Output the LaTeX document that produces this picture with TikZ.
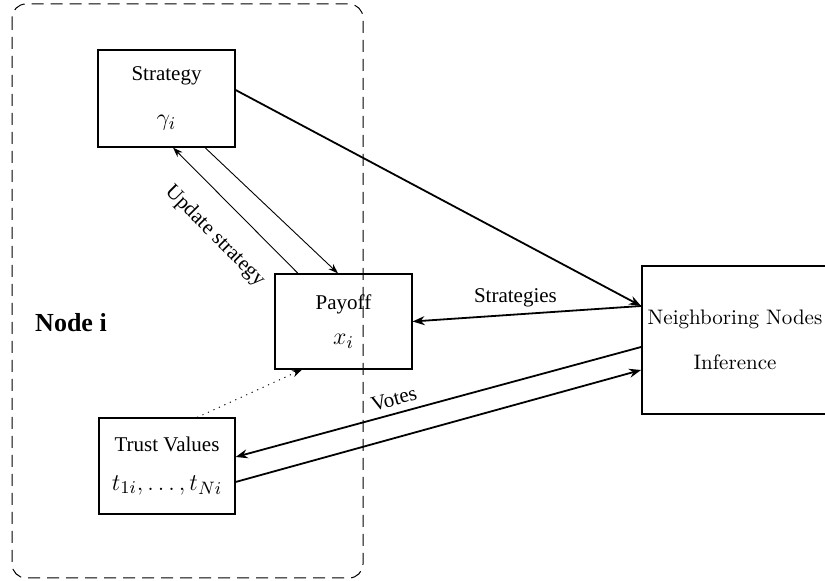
\documentclass[tikz,border=0pt]{standalone}
\usepackage{amsmath,amssymb}
\usepackage{fontspec}
\newfontfamily\timesfont{Liberation Serif}
\usetikzlibrary{calc,arrows.meta,positioning}

\begin{document}
\begin{tikzpicture}[x=0.5pt, y=-0.5pt,
  every node/.style={font=\fontsize{10.5}{12.6}\selectfont},
  box/.style={draw, line width=0.6pt, align=center, inner sep=0pt},
  tlabel/.style={font=\timesfont\fontsize{10.5}{12.6}\selectfont},
  bigarrow/.style={line width=0.9pt, -{Stealth[length=6pt,width=4.5pt]}},
  smallarrow/.style={line width=0.45pt, -{Stealth[length=5pt,width=3.5pt]}},
  backarrow/.style={line width=0.45pt, {Stealth[length=5pt,width=3.5pt]}-}]

\useasboundingbox (0,0) rectangle (825,581);

% =================== node i (dashed frame) ===================
\draw[line width=0.5pt, dash pattern=on 6pt off 3.5pt, rounded corners=7pt] (12,4) rectangle (363,578);
\node[font=\timesfont\bfseries\fontsize{13}{15}\selectfont] (nodei) at (71,323) {Node i};

% boxes inside node i
\node[box, minimum width=68.5pt, minimum height=48.5pt] (strat) at (166.5,98.5)
  {{\timesfont Strategy}\\[10pt]{\fontsize{12.5}{15}\selectfont $\gamma_i$}};
\node[box, minimum width=68.5pt, minimum height=47.5pt] (payoff) at (343.5,321.5)
  {{\timesfont Payoff}\\[5pt]{\fontsize{12.5}{15}\selectfont $x_i$}};
\node[box, minimum width=68pt, minimum height=48pt] (trust) at (167,466)
  {{\timesfont Trust Values}\\[6.5pt]{\fontsize{12.5}{15}\selectfont $t_{1i},\ldots,t_{Ni}$}};

% neighbours (cut by the right border)
\node[box, line width=0.9pt, minimum width=93pt, minimum height=74pt] (neigh) at (735,340)
  {Neighboring Nodes\\[10pt]Inference};

% =================== connectors ===================
\draw[bigarrow] ([yshift=4.25pt]strat.east) -- ([yshift=17pt]neigh.west);
\draw[bigarrow] ([yshift=17pt]neigh.west) -- (payoff.east)
  node[tlabel, above=0pt, pos=0.55] {Strategies};
\draw[bigarrow] ([yshift=-3.5pt]neigh.west) -- ([yshift=4.5pt]trust.east)
  node[tlabel, sloped, above=0pt, pos=0.6] {Votes};
\draw[bigarrow] ([yshift=-8pt]trust.east) -- ([yshift=-15pt]neigh.west);

% strategy <-> payoff
\draw[backarrow] ([xshift=3.25pt]strat.south) -- ([xshift=-22.75pt]payoff.north)
  node[tlabel, sloped, below=8pt, pos=0.52] {Update strategy};
\draw[smallarrow] ([xshift=19.25pt]strat.south) -- ([xshift=-2.75pt]payoff.north);

% trust -> payoff
\draw[smallarrow, dash pattern=on 0.6pt off 2.4pt] ([xshift=15pt]trust.north) -- ([xshift=-20.75pt]payoff.south);

\end{tikzpicture}
\end{document}
